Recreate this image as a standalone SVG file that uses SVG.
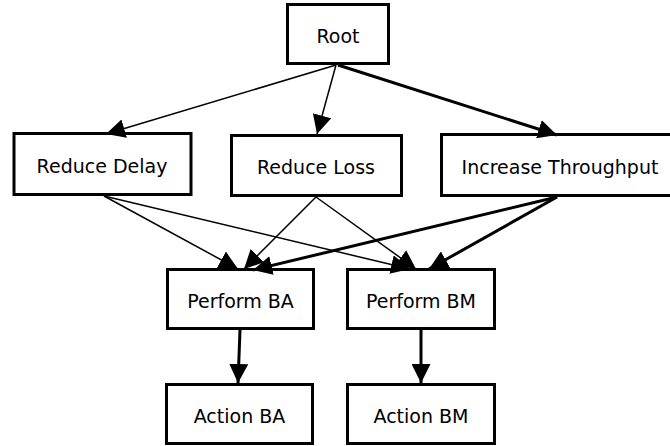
<svg xmlns="http://www.w3.org/2000/svg" width="670" height="446" viewBox="0 0 670 446">
<style>
.box{fill:#fff;stroke:#000;stroke-width:3}
.lbl{font-family:"DejaVu Sans",sans-serif;font-size:19px;fill:#000;text-anchor:middle}
.thin{fill:none;stroke:#000;stroke-width:1.5;marker-end:url(#ah)}
.thick{fill:none;stroke:#000;stroke-width:3;marker-end:url(#ah)}
</style>
<defs>
<marker id="ah" viewBox="0 0 19 19" refX="19" refY="9.5" markerWidth="19" markerHeight="19" markerUnits="userSpaceOnUse" orient="auto">
<path d="M0,0 L19,9.5 L0,19 z" fill="#000"/>
</marker>
</defs>
<rect width="670" height="446" fill="#fff"/>
<g id="root"><rect class="box" x="287.5" y="4.5" width="101" height="59"/><text class="lbl" x="338" y="43">Root</text></g>
<g id="reduce-delay"><rect class="box" x="14" y="133.5" width="177" height="61"/><text class="lbl" x="102" y="172.5">Reduce Delay</text></g>
<g id="reduce-loss"><rect class="box" x="231.5" y="135.5" width="170" height="60"/><text class="lbl" x="316" y="174">Reduce Loss</text></g>
<g id="increase-throughput"><rect class="box" x="441.5" y="134.5" width="238" height="61"/><text class="lbl" x="560" y="173.5">Increase Throughput</text></g>
<g id="perform-ba"><rect class="box" x="167.5" y="269.5" width="146" height="59"/><text class="lbl" x="240.5" y="307.5">Perform BA</text></g>
<g id="perform-bm"><rect class="box" x="347.5" y="269.5" width="147" height="59"/><text class="lbl" x="421" y="307.5">Perform BM</text></g>
<g id="action-ba"><rect class="box" x="166.5" y="384.5" width="146" height="59"/><text class="lbl" x="239.5" y="422.5">Action BA</text></g>
<g id="action-bm"><rect class="box" x="347.5" y="384.5" width="147" height="59"/><text class="lbl" x="421" y="422.5">Action BM</text></g>
<g id="connectors">
<path class="thin" d="M336,65 L106,134"/>
<path class="thin" d="M336,65 L317,134"/>
<path class="thick" d="M338,65 L557,135"/>
<path class="thin" d="M104,196 L238,269"/>
<path class="thin" d="M104,196 L410,269"/>
<path class="thin" d="M316,197 L244,269"/>
<path class="thin" d="M316,197 L416,269"/>
<path class="thick" d="M557,197 L253,270"/>
<path class="thick" d="M557,197 L429,269"/>
<path class="thick" d="M240,330 L238,383"/>
<path class="thick" d="M421,330 L421,383"/>
</g>
</svg>
